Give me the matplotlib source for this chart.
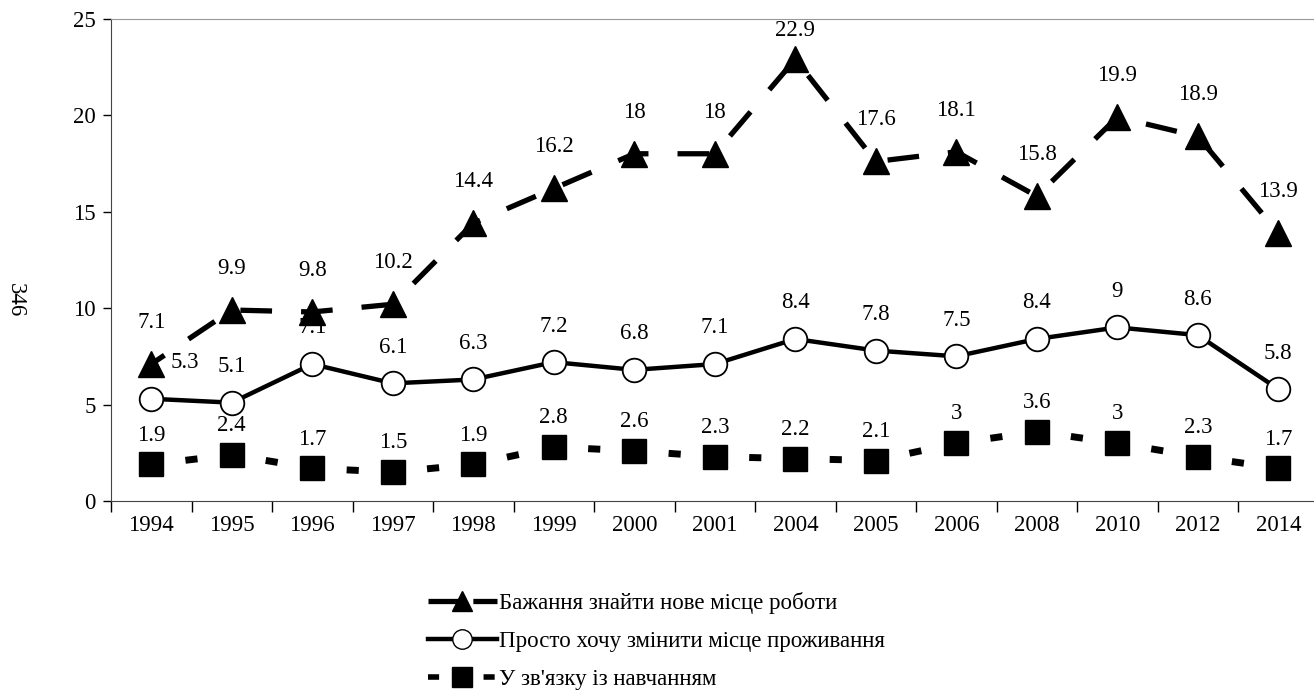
import matplotlib.pyplot as plt
from matplotlib.lines import Line2D
import numpy as np

plt.rcParams['font.family'] = ['Liberation Serif', 'DejaVu Serif']

years = ['1994', '1995', '1996', '1997', '1998', '1999', '2000', '2001',
         '2004', '2005', '2006', '2008', '2010', '2012', '2014']
work = [7.1, 9.9, 9.8, 10.2, 14.4, 16.2, 18, 18, 22.9, 17.6, 18.1, 15.8, 19.9, 18.9, 13.9]
residence = [5.3, 5.1, 7.1, 6.1, 6.3, 7.2, 6.8, 7.1, 8.4, 7.8, 7.5, 8.4, 9, 8.6, 5.8]
study = [1.9, 2.4, 1.7, 1.5, 1.9, 2.8, 2.6, 2.3, 2.2, 2.1, 3, 3.6, 3, 2.3, 1.7]
labels = ['Бажання знайти нове місце роботи',
          'Просто хочу змінити місце проживання',
          'У зв\'язку із навчанням']

x = np.arange(len(years))
fs = 16.5

fig = plt.figure(figsize=(13.14, 6.93), dpi=100)
ax = fig.add_axes([0.0845, 0.277, 0.919, 0.696])

# work series: long dashes with triangles
ax.plot(x, work, color='black', linewidth=3.8, linestyle=(3, (6, 5.5)),
        marker='^', markersize=19, markerfacecolor='black', zorder=3)
# residence series: solid line with open circles
ax.plot(x, residence, color='black', linewidth=3.2,
        marker='o', markersize=17, markerfacecolor='white',
        markeredgecolor='black', markeredgewidth=1.3, zorder=3)
# study series: one short dash in the middle of every segment, then squares
for i in range(len(x) - 1):
    ax.plot(x[i:i + 2], study[i:i + 2], color='black', linewidth=5,
            linestyle=(26.8, (1.75, 30)), solid_capstyle='butt', zorder=2)
ax.plot(x, study, linestyle='none', marker='s', markersize=17,
        markerfacecolor='black', markeredgecolor='black', zorder=3)

# value labels
for i in range(len(x)):
    dy = 21 if work[i] > 22 else 30
    ax.annotate(str(work[i]), (x[i], work[i]), xytext=(0, dy), textcoords='offset points',
                ha='center', va='center', fontsize=fs)
    dx = 24 if i == 0 else 0
    ax.annotate(str(residence[i]), (x[i], residence[i]), xytext=(dx, 26), textcoords='offset points',
                ha='center', va='center', fontsize=fs)
    ax.annotate(str(study[i]), (x[i], study[i]), xytext=(0, 21), textcoords='offset points',
                ha='center', va='center', fontsize=fs)

ax.set_xlim(-0.5, len(years) - 0.5)
ax.set_ylim(0, 25)
ax.set_yticks([0, 5, 10, 15, 20, 25])
ax.tick_params(axis='y', labelsize=fs, length=6, width=1, direction='out', pad=5)

# category boundaries as major ticks, names on minor ticks
ax.set_xticks(np.arange(-0.5, len(years) + 0.5, 1))
ax.set_xticklabels([])
ax.set_xticks(x, minor=True)
ax.set_xticklabels(years, minor=True)
ax.tick_params(axis='x', which='major', length=8, width=1, direction='out')
ax.tick_params(axis='x', which='minor', length=0, labelsize=fs, pad=10)

ax.spines['top'].set_color('#999999')
ax.spines['right'].set_visible(False)
ax.spines['left'].set_color('#444444')
ax.spines['bottom'].set_color('#444444')

# page number on the left
fig.text(0.012, 0.567, '346', rotation=-90, fontsize=fs, ha='center', va='center')

# legend
handles = [
    Line2D([], [], color='black', linewidth=3.8, linestyle=(0, (6, 2.5)), marker='^',
           markersize=15, markerfacecolor='black'),
    Line2D([], [], color='black', linewidth=3.2, marker='o', markersize=14,
           markerfacecolor='white', markeredgecolor='black'),
    Line2D([], [], color='black', linewidth=4.0, linestyle=(0, (2, 3)), marker='s',
           markersize=14, markerfacecolor='black'),
]
fig.legend(handles, labels, loc='center left', bbox_to_anchor=(0.310, 0.075), frameon=False,
           fontsize=fs, handlelength=3.0, handletextpad=0.1, labelspacing=0.75)

plt.savefig('out.png', dpi=100)
